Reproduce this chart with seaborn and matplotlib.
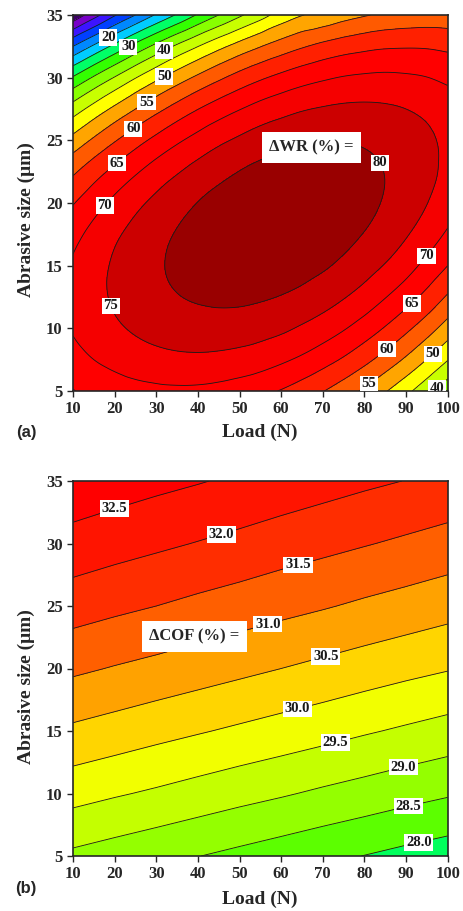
import numpy as np
import matplotlib
matplotlib.use('Agg')
import matplotlib.pyplot as plt
import matplotlib.tri as mtri
import seaborn as sns

# (a) wear-rate change on a 5 N x 2.5 um grid
load_a = [10, 15, 20, 25, 30, 35, 40, 45, 50, 55, 60, 65, 70, 75, 80, 85, 90, 95, 100]
size_a = [5, 7.5, 10, 12.5, 15, 17.5, 20, 22.5, 25, 27.5, 30, 32.5, 35]
wr = [
    [64.8, 66.3, 67.5, 68.4, 68.9, 69.1, 69.0, 68.5, 67.6, 66.3, 64.7, 62.6, 60.2, 57.4, 54.1, 50.4, 46.3, 41.7, 36.7],
    [68.2, 70.0, 71.4, 72.6, 73.4, 73.9, 74.0, 73.7, 73.1, 72.2, 70.8, 69.1, 66.9, 64.4, 61.4, 58.0, 54.2, 49.9, 45.2],
    [70.4, 72.4, 74.2, 75.6, 76.7, 77.5, 77.9, 77.9, 77.6, 76.9, 75.9, 74.4, 72.6, 70.4, 67.7, 64.6, 61.1, 57.2, 52.8],
    [71.2, 73.6, 75.6, 77.3, 78.7, 79.8, 80.5, 80.9, 80.9, 80.5, 79.8, 78.7, 77.2, 75.3, 73.0, 70.2, 67.1, 63.5, 59.4],
    [70.6, 73.3, 75.6, 77.7, 79.4, 80.8, 81.8, 82.5, 82.9, 82.9, 82.5, 81.7, 80.6, 79.0, 77.0, 74.7, 71.9, 68.6, 65.0],
    [68.5, 71.5, 74.2, 76.5, 78.6, 80.3, 81.7, 82.8, 83.5, 83.8, 83.8, 83.4, 82.6, 81.4, 79.8, 77.8, 75.4, 72.5, 69.3],
    [64.7, 68.0, 71.1, 73.8, 76.2, 78.3, 80.1, 81.5, 82.6, 83.3, 83.6, 83.6, 83.2, 82.4, 81.2, 79.6, 77.6, 75.1, 72.3],
    [59.2, 62.9, 66.3, 69.4, 72.2, 74.6, 76.8, 78.6, 80.1, 81.2, 81.9, 82.3, 82.3, 81.9, 81.1, 79.9, 78.3, 76.3, 73.8],
    [51.7, 55.8, 59.6, 63.1, 66.3, 69.2, 71.7, 74.0, 75.8, 77.4, 78.5, 79.3, 79.7, 79.8, 79.4, 78.6, 77.5, 75.9, 73.9],
    [42.4, 46.9, 51.1, 55.0, 58.6, 61.9, 64.9, 67.5, 69.8, 71.8, 73.3, 74.6, 75.4, 75.9, 76.0, 75.7, 75.0, 73.9, 72.3],
    [30.5, 35.6, 40.3, 44.8, 48.9, 52.6, 56.0, 59.1, 61.9, 64.3, 66.3, 68.0, 69.3, 70.3, 70.8, 71.0, 70.7, 70.1, 69.0],
    [15.0, 20.8, 26.3, 31.6, 36.4, 40.9, 44.9, 48.6, 51.9, 54.8, 57.3, 59.5, 61.3, 62.7, 63.7, 64.4, 64.6, 64.5, 63.9],
    [-4.0, 3.0, 9.5, 15.0, 20.5, 25.5, 30.5, 35.0, 39.2, 43.0, 47.0, 49.8, 51.1, 53.1, 54.6, 55.8, 56.5, 56.9, 56.8],
]

# (b) friction coefficient change, 10 N x 5 um grid
load_b = [10, 20, 30, 40, 50, 60, 70, 80, 90, 100]
size_b = [5, 10, 15, 20, 25, 30, 35]
cof = [
    [28.90, 28.77, 28.64, 28.51, 28.38, 28.25, 28.12, 27.99, 27.86, 27.74],
    [29.68, 29.55, 29.43, 29.30, 29.17, 29.05, 28.92, 28.80, 28.67, 28.55],
    [30.41, 30.29, 30.16, 30.04, 29.92, 29.80, 29.68, 29.55, 29.43, 29.31],
    [31.09, 30.97, 30.86, 30.74, 30.62, 30.50, 30.38, 30.26, 30.14, 30.03],
    [31.73, 31.61, 31.50, 31.38, 31.27, 31.15, 31.04, 30.92, 30.81, 30.69],
    [32.32, 32.20, 32.09, 31.98, 31.87, 31.75, 31.64, 31.53, 31.42, 31.31],
    [32.85, 32.74, 32.63, 32.53, 32.42, 32.31, 32.20, 32.09, 31.99, 31.88],
]

levels_a = [-50, 0, 5, 10, 15, 20, 25, 30, 35, 40, 45, 50, 55, 60, 65, 70, 75, 80, 100]
colors_a = ['#3c0064', '#7800c8', '#3c14ff', '#0040ff', '#0088ff', '#00ccff', '#00ff66', '#33ff00',
            '#88ff00', '#c8ff00', '#ffff00', '#ffa500', '#ff5a00', '#ff2000', '#ff0000', '#f50000',
            '#cc0000', '#990000']
levels_b = [20, 28.0, 28.5, 29.0, 29.5, 30.0, 30.5, 31.0, 31.5, 32.0, 32.5, 40]
colors_b = ['#00ff5c', '#5cff00', '#94ff00', '#c4ff00', '#f2ff00', '#ffd500', '#ffa200', '#ff5f00',
            '#ff2d00', '#ff1400', '#ff0000']

# contour label placements (level, load, size)
labels_a = [(20, 17.9, 33.6), (30, 23.2, 32.5), (40, 31.6, 32.3), (50, 32.1, 30.0), (55, 27.9, 27.9),
            (60, 24.5, 25.9), (65, 20.5, 23.2), (70, 17.9, 19.7), (75, 17.7, 11.6), (80, 84.7, 23.4),
            (70, 95.9, 15.5), (65, 91.6, 11.9), (60, 84.8, 8.6), (55, 79.6, 6.3), (50, 96.1, 8.1),
            (40, 96.1, 5.7)]
labels_b = [(32.5, 20.1, 32.7), (32.0, 45.6, 30.7), (31.5, 64.2, 28.1), (31.0, 57.0, 23.3),
            (30.5, 70.6, 21.1), (30.0, 63.8, 16.9), (29.5, 73.0, 14.1), (29.0, 89.3, 12.1),
            (28.5, 90.7, 8.9), (28.0, 93.1, 6.0)]

sns.set_theme(style='ticks')
plt.rcParams['font.family'] = ['Liberation Serif', 'DejaVu Serif']


def panel(ax, xs, ys, z, levels, colors, labels, fmt, box_text, box_xy, tag, tag_y, ylab_y, xlab_y, smooth):
    X, Y = np.meshgrid(xs, ys)
    Z = np.array(z, dtype=float)
    if smooth:
        # let matplotlib's own cubic tri-refiner draw smooth iso-lines through the grid
        tri = mtri.Triangulation(X.ravel(), Y.ravel())
        interp = mtri.CubicTriInterpolator(tri, Z.ravel(), kind='geom')
        tri_f, z_f = mtri.UniformTriRefiner(tri).refine_field(Z.ravel(), triinterpolator=interp, subdiv=3)
        fill = lambda lv, **kw: ax.tricontourf(tri_f, z_f, levels=lv, **kw)
        line = lambda lv, **kw: ax.tricontour(tri_f, z_f, levels=lv, **kw)
    else:
        fill = lambda lv, **kw: ax.contourf(X, Y, Z, levels=lv, **kw)
        line = lambda lv, **kw: ax.contour(X, Y, Z, levels=lv, **kw)
    fill(levels, colors=colors)
    line(levels[1:-1], colors='k', linewidths=0.6)
    for lev, x, y in labels:
        one = line([lev], colors='k', linewidths=0)
        ax.clabel(one, manual=[(x, y)], fmt=fmt, fontsize=10.5, inline=False)
        for t in one.labelTexts:
            t.set_rotation(0)
            t.set_fontweight('bold')
            t.set_bbox(dict(boxstyle='square,pad=0.12', fc='white', ec='none'))
    ax.text(box_xy[0], box_xy[1], box_text, ha='center', va='center', fontsize=12, fontweight='bold',
            bbox=dict(boxstyle='square,pad=0.45', fc='white', ec='none'))
    ax.set_xlim(10, 100)
    ax.set_ylim(5, 35)
    ax.set_xticks(range(10, 101, 10))
    ax.set_yticks(range(5, 36, 5))
    ax.tick_params(labelsize=12, width=1, length=4, direction='out')
    for lab in ax.get_xticklabels() + ax.get_yticklabels():
        lab.set_fontweight('bold')
    ax.set_xlabel('Load (N)', fontsize=14, fontweight='bold')
    ax.set_ylabel('Abrasive size (\u03bcm)', fontsize=14, fontweight='bold')
    ax.xaxis.set_label_coords(0.499, xlab_y)
    ax.xaxis.label.set_va('center')
    ax.yaxis.set_label_coords(-0.125, ylab_y)
    ax.yaxis.label.set_va('center')
    for s in ax.spines.values():
        s.set_linewidth(1.2)
    fig.text(0.056, tag_y, tag, fontsize=12, fontweight='bold', family='Liberation Sans',
             va='center', ha='center')


fig = plt.figure(figsize=(4.63, 9.11), dpi=100)
ax1 = fig.add_axes([73 / 463, 1 - 391 / 911, 374.7 / 463, 376 / 911])
ax2 = fig.add_axes([73 / 463, 1 - 856 / 911, 374.7 / 463, 375 / 911])

panel(ax1, load_a, size_a, wr, levels_a, colors_a, labels_a, '%d',
      '\u0394WR (%) =', (67.3, 24.4), '(a)', 1 - 433 / 911, 0.455, -0.109, True)
panel(ax2, load_b, size_b, cof, levels_b, colors_b, labels_b, '%.1f',
      '\u0394COF (%) =', (39.2, 22.6), '(b)', 1 - 888 / 911, 0.451, -0.115, False)

fig.savefig('out.png', dpi=100)
